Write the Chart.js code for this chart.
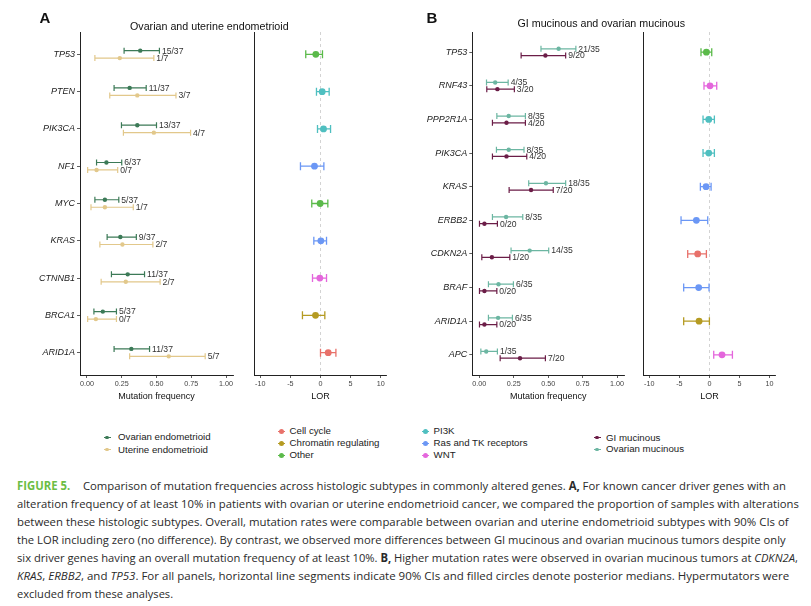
<!DOCTYPE html>
<html><head><meta charset="utf-8">
<script src="https://cdn.jsdelivr.net/npm/chart.js@4.4.0/dist/chart.umd.min.js"></script>
<style>
html,body{margin:0;padding:0;background:#fff;width:811px;height:606px;overflow:hidden;position:relative;font-family:"Liberation Sans",Arial,sans-serif;}
canvas{position:absolute;}
.t{position:absolute;white-space:nowrap;color:#111;line-height:1;}
.lg{position:absolute;white-space:nowrap;font-size:9.7px;color:#222;line-height:12px;height:12px;}
.mk{position:absolute;width:7px;height:1px;top:0;}
.dt{position:absolute;border-radius:50%;}
.cap{position:absolute;left:17px;white-space:nowrap;font-family:"Open Sans","Noto Sans",sans-serif;font-size:11.5px;color:#2a2a2a;line-height:14px;transform-origin:0 50%;}
</style></head><body>
<canvas id="cA1" style="left:0;top:0"></canvas>
<canvas id="cA2" style="left:240px;top:0"></canvas>
<canvas id="cB1" style="left:400px;top:0"></canvas>
<canvas id="cB2" style="left:630px;top:0"></canvas>
<div id="overlay"></div>
<script>
// ---------------- DATA ----------------
const genesA = ["TP53","PTEN","PIK3CA","NF1","MYC","KRAS","CTNNB1","BRCA1","ARID1A"];
const ovEndoMed = [0.383,0.307,0.362,0.140,0.129,0.240,0.293,0.114,0.319];
const ovEndoLo  = [0.267,0.195,0.248,0.069,0.057,0.145,0.176,0.050,0.195];
const ovEndoHi  = [0.521,0.426,0.500,0.250,0.229,0.355,0.414,0.212,0.450];
const ovEndoLab = ["15/37","11/37","13/37","6/37","5/37","9/37","11/37","5/37","11/37"];
const utEndoMed = [0.236,0.362,0.481,0.069,0.129,0.255,0.279,0.064,0.588];
const utEndoLo  = [0.057,0.164,0.262,0.005,0.029,0.093,0.102,0.005,0.307];
const utEndoHi  = [0.481,0.640,0.745,0.221,0.333,0.474,0.526,0.212,0.850];
const utEndoLab = ["1/7","3/7","4/7","0/7","1/7","2/7","2/7","0/7","5/7"];
const lorAMed = [-0.78,0.28,0.50,-1.00,-0.06,0.06,-0.11,-0.83,1.28];
const lorALo  = [-2.45,-0.67,-0.50,-3.33,-1.45,-1.11,-1.33,-3.00,0.00];
const lorAHi  = [0.33,1.44,1.67,0.56,1.22,1.00,1.00,0.72,2.56];
const pathA = ["Other","PI3K","PI3K","Ras and TK receptors","Other","Ras and TK receptors","WNT","Chromatin regulating","Cell cycle"];

const genesB = ["TP53","RNF43","PPP2R1A","PIK3CA","KRAS","ERBB2","CDKN2A","BRAF","ARID1A","APC"];
const ovMucMed = [0.576,0.116,0.214,0.214,0.484,0.195,0.366,0.140,0.137,0.051];
const ovMucLo  = [0.448,0.053,0.128,0.125,0.359,0.096,0.231,0.067,0.067,0.012];
const ovMucHi  = [0.701,0.210,0.335,0.325,0.627,0.316,0.504,0.248,0.241,0.132];
const ovMucLab = ["21/35","4/35","8/35","8/35","18/35","8/35","14/35","6/35","6/35","1/35"];
const giMucMed = [0.480,0.132,0.198,0.198,0.376,0.038,0.092,0.038,0.038,0.296];
const giMucLo  = [0.304,0.055,0.096,0.096,0.217,0.002,0.019,0.002,0.002,0.152];
const giMucHi  = [0.627,0.255,0.335,0.345,0.537,0.132,0.222,0.128,0.128,0.480];
const giMucLab = ["9/20","3/20","4/20","4/20","7/20","0/20","1/20","0/20","0/20","7/20"];
const lorBMed = [-0.50,0.10,-0.11,-0.11,-0.56,-2.17,-1.95,-1.78,-1.72,2.10];
const lorBLo  = [-1.40,-0.90,-1.06,-1.06,-1.50,-4.72,-3.61,-4.28,-4.28,0.72];
const lorBHi  = [0.39,1.22,0.83,0.83,0.28,-0.28,-0.50,-0.06,0.00,3.83];
const pathB = ["Other","WNT","PI3K","PI3K","Ras and TK receptors","Ras and TK receptors","Cell cycle","Ras and TK receptors","Chromatin regulating","WNT"];

const freqTicks = [0, 0.25, 0.5, 0.75, 1];
const lorTicks = [-10, -5, 0, 5, 10];
const pathways = ["Cell cycle","Chromatin regulating","Other","PI3K","Ras and TK receptors","WNT"];

// ---------------- STYLE ----------------
const pathColor = {"Cell cycle":"#E8716A","Chromatin regulating":"#B59B22","Other":"#5BBA4A","PI3K":"#4FBFC0","Ras and TK receptors":"#6B97F5","WNT":"#E466DC"};
const colOvEndo = "#3C7A57", colUtEndo = "#E2C88B", colGiMuc = "#6B1D47", colOvMuc = "#6CB6A2";
const FONT = '"Liberation Sans", Arial, Helvetica, sans-serif';
Chart.defaults.font.family = FONT;
Chart.defaults.color = '#222';
Chart.defaults.animation = false;

const errPlugin = {
  id: 'errbars',
  beforeDatasetsDraw(chart, args, opts) {
    const {ctx, scales: {x, y}, chartArea} = chart;
    if (opts.zero) {
      const xp = x.getPixelForValue(0);
      ctx.save(); ctx.strokeStyle = '#c8c8c8'; ctx.lineWidth = 0.8; ctx.setLineDash([3, 3]);
      ctx.beginPath(); ctx.moveTo(xp, chartArea.top); ctx.lineTo(xp, chartArea.bottom); ctx.stroke(); ctx.restore();
    }
    chart.data.datasets.forEach(ds => {
      ds.data.forEach((p, i) => {
        const col = Array.isArray(ds.pointBackgroundColor) ? ds.pointBackgroundColor[i] : ds.pointBackgroundColor;
        const yp = y.getPixelForValue(p.y), x1 = x.getPixelForValue(p.lo), x2 = x.getPixelForValue(p.hi);
        ctx.save(); ctx.strokeStyle = col; ctx.lineWidth = opts.lw; ctx.beginPath();
        ctx.moveTo(x1, yp); ctx.lineTo(x2, yp);
        ctx.moveTo(x1, yp - opts.cap); ctx.lineTo(x1, yp + opts.cap);
        ctx.moveTo(x2, yp - opts.cap); ctx.lineTo(x2, yp + opts.cap);
        ctx.stroke(); ctx.restore();
      });
    });
  },
  afterDatasetsDraw(chart, args, opts) {
    const {ctx, scales: {x, y}} = chart;
    chart.data.datasets.forEach(ds => {
      ds.data.forEach(p => {
        if (!p.lab) return;
        ctx.save(); ctx.fillStyle = '#333'; ctx.font = '8.6px ' + FONT;
        ctx.textAlign = 'left'; ctx.textBaseline = 'middle';
        ctx.fillText(p.lab, x.getPixelForValue(p.hi) + 2.5, y.getPixelForValue(p.y) + 0.5);
        ctx.restore();
      });
    });
  }
};

function yScale(genes, width, showLabels) {
  return {
    type: 'linear', reverse: true, bounds: 'data', min: -0.6, max: genes.length - 0.4,
    afterBuildTicks: s => { s.ticks = genes.map((g, i) => ({value: i})); },
    ticks: { display: showLabels, autoSkip: false, padding: 2, color: '#1a1a1a',
      font: {size: 9, style: 'italic'}, callback: v => genes[Math.round(v)] },
    grid: { display: showLabels, drawOnChartArea: false, drawTicks: true, tickLength: 3, color: '#333', tickColor: '#333', lineWidth: 0.8 },
    border: { display: true, color: '#222', width: 1 },
    afterFit: s => { s.width = width; }
  };
}
function xScale(min, max, ticks, fmt, title) {
  return {
    type: 'linear', bounds: 'data', min: min, max: max,
    afterBuildTicks: s => { s.ticks = ticks.map(v => ({value: v})); },
    ticks: { autoSkip: false, maxRotation: 0, padding: 2, color: '#444', font: {size: 7.2}, callback: fmt },
    grid: { drawOnChartArea: false, drawTicks: true, tickLength: 3, color: '#333', tickColor: '#333', lineWidth: 0.8 },
    border: { display: true, color: '#222', width: 1 },
    title: { display: true, text: title, color: '#111', font: {size: 9}, padding: {top: 0, bottom: 8} },
    afterFit: s => { s.height = 35; }
  };
}
function mkCanvas(id, w, h) {
  const c = document.getElementById(id); c.width = w; c.height = h;
  c.style.width = w + 'px'; c.style.height = h + 'px'; return c;
}
function series(med, lo, hi, lab, off) {
  return med.map((m, i) => ({x: m, y: i + off, lo: lo[i], hi: hi[i], lab: lab ? lab[i] : null}));
}
function freqChart(id, w, genes, padRight, yW, s1, s2) {
  const c = mkCanvas(id, w, 410);
  return new Chart(c, {
    type: 'scatter',
    data: { datasets: [s1, s2].map(s => ({
      data: series(s.med, s.lo, s.hi, s.lab, s.off),
      pointBackgroundColor: s.color, pointBorderWidth: 0, pointRadius: 2.2, pointHoverRadius: 2.2
    })) },
    options: {
      responsive: false, events: [],
      layout: { padding: {left: 0, top: 32, right: padRight, bottom: 0} },
      plugins: { legend: {display: false}, tooltip: {enabled: false}, errbars: {lw: 1.2, cap: 3, zero: false} },
      scales: { x: xScale(-0.05, 1.05, freqTicks, v => v.toFixed(2), 'Mutation frequency'), y: yScale(genes, yW, true) }
    },
    plugins: [errPlugin]
  });
}
function lorChart(id, w, genes, padRight, yW, med, lo, hi, path) {
  const c = mkCanvas(id, w, 410);
  return new Chart(c, {
    type: 'scatter',
    data: { datasets: [{
      data: series(med, lo, hi, null, 0),
      pointBackgroundColor: path.map(p => pathColor[p]), pointBorderWidth: 0, pointRadius: 3.4, pointHoverRadius: 3.4
    }] },
    options: {
      responsive: false, events: [],
      layout: { padding: {left: 0, top: 32, right: padRight, bottom: 0} },
      plugins: { legend: {display: false}, tooltip: {enabled: false}, errbars: {lw: 1.3, cap: 4, zero: true} },
      scales: { x: xScale(-11, 11, lorTicks, v => String(v), 'LOR'), y: yScale(genes, yW, false) }
    },
    plugins: [errPlugin]
  });
}

freqChart('cA1', 240, genesA, 7, 80,
  {med: ovEndoMed, lo: ovEndoLo, hi: ovEndoHi, lab: ovEndoLab, color: colOvEndo, off: -0.1},
  {med: utEndoMed, lo: utEndoLo, hi: utEndoHi, lab: utEndoLab, color: colUtEndo, off: 0.1});
lorChart('cA2', 160, genesA, 13.3, 14.3, lorAMed, lorALo, lorAHi, pathA);
freqChart('cB1', 230, genesB, 6, 72.3,
  {med: ovMucMed, lo: ovMucLo, hi: ovMucHi, lab: ovMucLab, color: colOvMuc, off: -0.1},
  {med: giMucMed, lo: giMucLo, hi: giMucHi, lab: giMucLab, color: colGiMuc, off: 0.1});
lorChart('cB2', 181, genesB, 35.5, 13.3, lorBMed, lorBLo, lorBHi, pathB);

// ---------------- TITLES / LEGENDS / CAPTION ----------------
const ov = document.getElementById('overlay');
function addText(txt, cx, cy, size, weight, align) {
  const d = document.createElement('div'); d.className = 't'; d.textContent = txt;
  d.style.fontSize = size + 'px'; d.style.fontWeight = weight || 'normal';
  ov.appendChild(d);
  const w = d.offsetWidth, h = d.offsetHeight;
  d.style.left = (align === 'left' ? cx : cx - w / 2) + 'px'; d.style.top = (cy - h / 2) + 'px';
}
addText('A', 45, 17.5, 15, 'bold');
addText('B', 432, 17.5, 15, 'bold');
addText('Ovarian and uterine endometrioid', 209.5, 26, 10.7);
addText('GI mucinous and ovarian mucinous', 601.5, 23, 10.7);

function legendItem(label, color, mx, my, tx, dotSize) {
  const m = document.createElement('div'); m.className = 'mk';
  m.style.left = (mx - 3.5) + 'px'; m.style.top = (my - 0.5) + 'px'; m.style.background = color;
  const d = document.createElement('div'); d.className = 'dt';
  d.style.width = dotSize + 'px'; d.style.height = dotSize + 'px';
  d.style.left = (mx - dotSize / 2) + 'px'; d.style.top = (my - dotSize / 2) + 'px'; d.style.background = color;
  const t = document.createElement('div'); t.className = 'lg'; t.textContent = label;
  t.style.left = tx + 'px'; t.style.top = (my - 6) + 'px';
  ov.appendChild(m); ov.appendChild(d); ov.appendChild(t);
}
legendItem('Ovarian endometrioid', colOvEndo, 107, 437.3, 118, 3.6);
legendItem('Uterine endometrioid', colUtEndo, 107, 449.6, 118, 3.6);
pathways.forEach((p, i) => {
  const col = i < 3 ? 0 : 1;
  const x = col === 0 ? 281 : 425, y = 431.3 + 12 * (i % 3);
  legendItem(p, pathColor[p], x, y, x + 8.5, 5);
});
legendItem('GI mucinous', colGiMuc, 597, 437.5, 606, 3.6);
legendItem('Ovarian mucinous', colOvMuc, 597, 449.4, 606, 3.6);

const capLines = [
  '<b style="color:#6cbd45">FIGURE 5.</b><span style="display:inline-block;width:13px"></span>Comparison of mutation frequencies across histologic subtypes in commonly altered genes. <b>A,</b> For known cancer driver genes with an',
  'alteration frequency of at least 10% in patients with ovarian or uterine endometrioid cancer, we compared the proportion of samples with alterations',
  'between these histologic subtypes. Overall, mutation rates were comparable between ovarian and uterine endometrioid subtypes with 90% CIs of',
  'the LOR including zero (no difference). By contrast, we observed more differences between GI mucinous and ovarian mucinous tumors despite only',
  'six driver genes having an overall mutation frequency of at least 10%. <b>B,</b> Higher mutation rates were observed in ovarian mucinous tumors at <i>CDKN2A</i>,',
  '<i>KRAS</i>, <i>ERBB2</i>, and <i>TP53</i>. For all panels, horizontal line segments indicate 90% CIs and filled circles denote posterior medians. Hypermutators were',
  'excluded from these analyses.'
];
const capWidths = [769, 782, 772, 769, 781, 772, 156];
capLines.forEach((html, i) => {
  const d = document.createElement('div'); d.className = 'cap'; d.innerHTML = html;
  d.style.top = (486 + 18.05 * i - 7) + 'px';
  ov.appendChild(d);
  const w = d.offsetWidth;
  d.style.transform = 'scaleX(' + (capWidths[i] / w) + ')';
});
</script>
</body></html>
